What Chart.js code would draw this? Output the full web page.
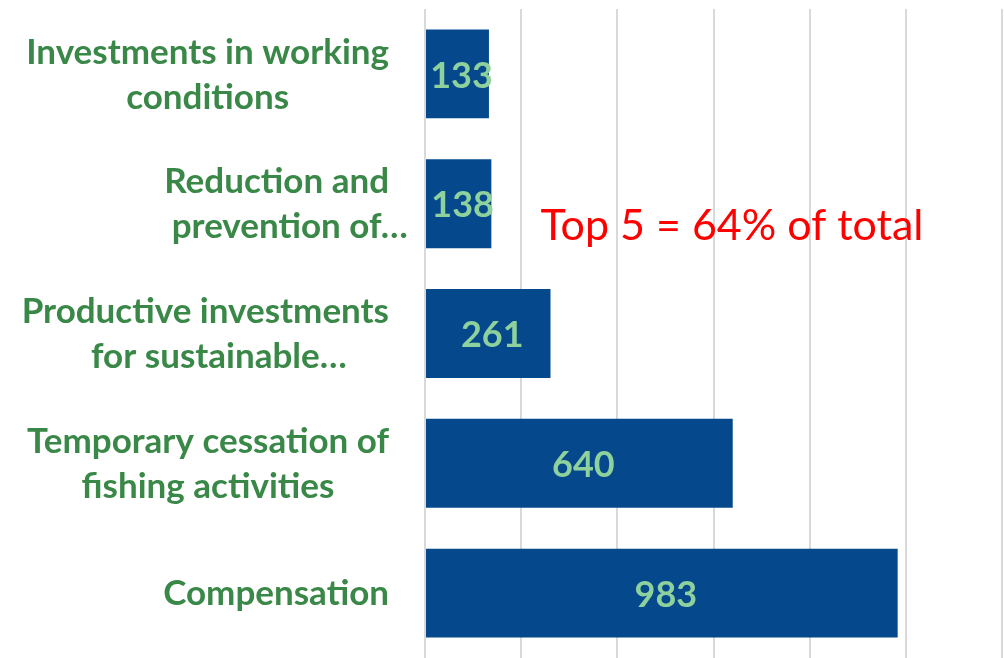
<!DOCTYPE html>
<html>
<head>
<meta charset="utf-8">
<script src="https://cdn.jsdelivr.net/npm/chart.js@4/dist/chart.umd.min.js"></script>
<style>
html,body{margin:0;padding:0;background:#fff;}
#wrap{width:1004px;height:658px;position:relative;}
</style>
</head>
<body>
<div id="wrap"><canvas id="c" width="1004" height="658"></canvas></div>
<script>
const categories = [
  ["Investments in working", "conditions"],
  ["Reduction and", "prevention of…"],
  ["Productive investments", "for sustainable…"],
  ["Temporary cessation of", "fishing activities"],
  ["Compensation"]
];
const values = [133, 138, 261, 640, 983];
const xTicks = [0, 200, 400, 600, 800, 1000, 1200];
const annotationText = "Top 5 = 64% of total";

const FONT = "Lato, 'Open Sans', sans-serif";

// Category labels: block right-aligned to the axis, lines centred within the block
// (a trailing ellipsis is appended after centring, as in the original)
const categoryLabels = {
  id: 'categoryLabels',
  afterDraw(chart) {
    const ctx = chart.ctx;
    const y = chart.scales.y;
    const right = chart.chartArea.left - 36;
    const lh = 45;
    ctx.save();
    ctx.font = "bold 35px " + FONT;
    ctx.fillStyle = "#3A8848";
    ctx.textAlign = "left";
    ctx.textBaseline = "middle";
    const core = l => l.replace(/…$/, '');
    categories.forEach((lines, i) => {
      const cy = y.getPixelForTick(i);
      const maxW = Math.max(...lines.map(l => ctx.measureText(core(l)).width));
      const cx = right - maxW / 2;
      const y0 = cy - (lines.length - 1) * lh / 2;
      lines.forEach((l, k) => {
        const w = ctx.measureText(core(l)).width;
        ctx.fillText(l, cx - w / 2, y0 + k * lh + 1);
      });
    });
    ctx.restore();
  }
};

const valueLabels = {
  id: 'valueLabels',
  afterDatasetsDraw(chart) {
    const ctx = chart.ctx;
    const meta = chart.getDatasetMeta(0);
    ctx.save();
    ctx.font = "bold 36px " + FONT;
    ctx.fillStyle = "#8ED19C";
    ctx.textAlign = "center";
    ctx.textBaseline = "middle";
    meta.data.forEach((bar, i) => {
      const cx = (bar.x + bar.base) / 2 + 4;
      ctx.fillText(String(values[i]), cx, bar.y + 2);
    });
    ctx.restore();
  }
};

const note = {
  id: 'note',
  afterDraw(chart) {
    const ctx = chart.ctx;
    const x = chart.scales.x;
    const y = chart.scales.y;
    ctx.save();
    ctx.font = "43px " + FONT;
    ctx.fillStyle = "#FF0000";
    ctx.textAlign = "left";
    ctx.textBaseline = "middle";
    ctx.fillText(annotationText, x.getPixelForValue(240), y.getPixelForValue(1.15) + 3);
    ctx.restore();
  }
};

new Chart(document.getElementById('c'), {
  type: 'bar',
  data: {
    labels: categories,
    datasets: [{
      data: values,
      backgroundColor: "#05498C",
      borderWidth: 0,
      categoryPercentage: 1,
      barPercentage: 0.685
    }]
  },
  options: {
    indexAxis: 'y',
    responsive: false,
    animation: false,
    events: [],
    layout: { padding: { top: 9, right: 2, bottom: 0, left: 0 } },
    plugins: { legend: { display: false }, tooltip: { enabled: false }, title: { display: false } },
    scales: {
      x: {
        min: 0, max: 1200,
        afterBuildTicks(scale) { scale.ticks = xTicks.map(v => ({ value: v })); },
        afterFit(scale) { scale.height = 0; },
        ticks: { display: false },
        border: { display: false },
        grid: { color: "#D9D9D9", lineWidth: 2, drawTicks: false }
      },
      y: {
        afterFit(scale) { scale.width = 425; scale.paddingTop = 0; scale.paddingBottom = 0; },
        ticks: { display: false },
        border: { display: false },
        grid: { display: false, drawTicks: false }
      }
    }
  },
  plugins: [valueLabels, note, categoryLabels]
});
</script>
</body>
</html>
